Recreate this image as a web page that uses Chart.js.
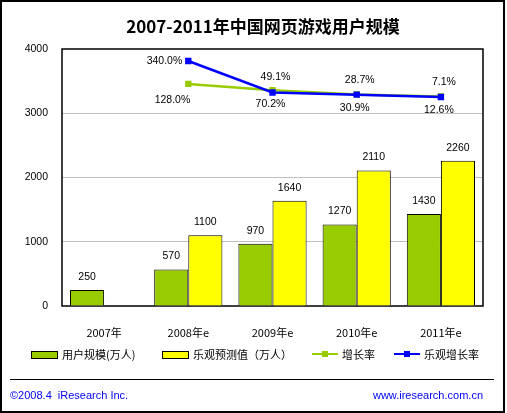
<!DOCTYPE html>
<html>
<head>
<meta charset="utf-8">
<script src="https://cdn.jsdelivr.net/npm/chart.js@4/dist/chart.umd.min.js"></script>
<style>
  body { margin: 0; background: #fff; }
  #wrap { position: relative; width: 507px; height: 413px; }
</style>
</head>
<body>
<div id="wrap"><canvas id="myChart" width="507" height="413"></canvas></div>
<script>
// data
const years = ['2007年', '2008年e', '2009年e', '2010年e', '2011年e']
const users = [250, 570, 970, 1270, 1430]            // 用户规模(万人)
const optimistic = [null, 1100, 1640, 2110, 2260]     // 乐观预测值（万人）
const growth = [null, 128.0, 70.2, 30.9, 12.6]        // 增长率 %
const optGrowth = [null, 340.0, 49.1, 28.7, 7.1]      // 乐观增长率 %
const yTicks = [0, 1000, 2000, 3000, 4000]

const numFont = '10.5px "Liberation Sans", Arial, sans-serif'
const cjkFont = '11px "Noto Sans CJK SC", sans-serif'
const GREEN = '#99cc00'
const YELLOW = '#ffff00'
const BLUE = '#0000ff'

// frame, title, legend, footer, plot box and value labels
const decor = {
  id: 'decor',
  beforeDatasetsDraw(chart) {
    const { ctx, chartArea: a } = chart
    ctx.save()
    ctx.strokeStyle = '#000'
    ctx.lineWidth = 1.5
    ctx.strokeRect(a.left, a.top, a.right - a.left, a.bottom - a.top)
    ctx.restore()
  },
  afterDatasetsDraw(chart) {
    const { ctx } = chart
    ctx.save()
    ctx.fillStyle = '#000'
    ctx.font = numFont
    // bar labels
    ;[0, 1].forEach(di => {
      chart.getDatasetMeta(di).data.forEach((bar, i) => {
        const v = chart.data.datasets[di].data[i]
        if (v == null) return
        ctx.textAlign = 'center'
        ctx.textBaseline = 'middle'
        ctx.fillText(String(v), bar.x, bar.y - 13)
      })
    })
    // growth (green) labels below
    chart.getDatasetMeta(3).data.forEach((pt, i) => {
      const v = growth[i]
      if (v == null) return
      ctx.textBaseline = 'middle'
      if (i === 1) { ctx.textAlign = 'right'; ctx.fillText(v.toFixed(1) + '%', pt.x + 2, pt.y + 16) }
      else { ctx.textAlign = 'center'; ctx.fillText(v.toFixed(1) + '%', pt.x - 2, pt.y + 14) }
    })
    // optimistic growth (blue) labels above
    chart.getDatasetMeta(2).data.forEach((pt, i) => {
      const v = optGrowth[i]
      if (v == null) return
      ctx.textBaseline = 'middle'
      if (i === 1) { ctx.textAlign = 'right'; ctx.fillText(v.toFixed(1) + '%', pt.x - 6, pt.y) }
      else { ctx.textAlign = 'center'; ctx.fillText(v.toFixed(1) + '%', pt.x + 3, pt.y - 15) }
    })
    ctx.restore()
  },
  afterDraw(chart) {
    const { ctx } = chart
    ctx.save()
    // outer frame
    ctx.strokeStyle = '#000'
    ctx.lineWidth = 2
    ctx.strokeRect(1, 1, 503, 411)
    // title
    ctx.fillStyle = '#000'
    ctx.font = 'bold 17px "Noto Sans CJK SC", sans-serif'
    ctx.textAlign = 'center'
    ctx.textBaseline = 'middle'
    ctx.fillText('2007-2011年中国网页游戏用户规模', 263, 27)
    // legend
    ctx.font = cjkFont
    ctx.textAlign = 'left'
    ctx.lineWidth = 1
    ctx.fillStyle = GREEN
    ctx.fillRect(31.5, 351.5, 26, 7)
    ctx.strokeRect(31.5, 351.5, 26, 7)
    ctx.fillStyle = YELLOW
    ctx.fillRect(162.5, 351.5, 26, 7)
    ctx.strokeRect(162.5, 351.5, 26, 7)
    ctx.fillStyle = '#000'
    ctx.fillText('用户规模(万人)', 62, 355)
    ctx.fillText('乐观预测值（万人）', 193, 355)
    ctx.fillText('增长率', 342, 355)
    ctx.fillText('乐观增长率', 424, 355)
    ;[[312, GREEN], [394, BLUE]].forEach(([x, c]) => {
      ctx.strokeStyle = c
      ctx.fillStyle = c
      ctx.lineWidth = 2
      ctx.beginPath(); ctx.moveTo(x, 354); ctx.lineTo(x + 26, 354); ctx.stroke()
      ctx.fillRect(x + 10, 351, 6, 6)
    })
    // separator and footer
    ctx.strokeStyle = '#000'
    ctx.lineWidth = 1
    ctx.beginPath(); ctx.moveTo(10, 379.5); ctx.lineTo(494, 379.5); ctx.stroke()
    ctx.fillStyle = BLUE
    ctx.font = '11px "Liberation Sans", Arial, sans-serif'
    ctx.textAlign = 'left'
    ctx.fillText('©2008.4  iResearch Inc.', 10, 396)
    ctx.textAlign = 'right'
    ctx.fillText('www.iresearch.com.cn', 483, 396)
    ctx.restore()
  }
}

const ctx = document.getElementById('myChart')
const myChart = new Chart(ctx, {
  data: {
    labels: years,
    datasets: [
      {
        type: 'bar', label: '用户规模(万人)', data: users,
        backgroundColor: GREEN, borderColor: '#000', borderWidth: 1,
        categoryPercentage: 0.81, barPercentage: 1, order: 3
      },
      {
        type: 'bar', label: '乐观预测值（万人）', data: optimistic,
        backgroundColor: YELLOW, borderColor: '#000', borderWidth: 1,
        categoryPercentage: 0.81, barPercentage: 1, order: 3
      },
      {
        type: 'line', label: '乐观增长率', data: optGrowth, yAxisID: 'y1',
        borderColor: BLUE, backgroundColor: BLUE, borderWidth: 2.5,
        pointStyle: 'rect', pointRadius: 4.5, pointBorderWidth: 0, order: 0
      },
      {
        type: 'line', label: '增长率', data: growth, yAxisID: 'y1',
        borderColor: GREEN, backgroundColor: GREEN, borderWidth: 2.5,
        pointStyle: 'rect', pointRadius: 4.5, pointBorderWidth: 0, order: 1
      }
    ]
  },
  options: {
    responsive: false,
    animation: false,
    events: [],
    layout: { padding: { top: 49, right: 24, bottom: 0, left: 0 } },
    plugins: { legend: { display: false }, tooltip: { enabled: false } },
    scales: {
      x: {
        grid: { display: false },
        border: { display: false },
        ticks: { color: '#000', font: { family: '"Noto Sans CJK SC", sans-serif', size: 11 }, padding: 12, maxRotation: 0 },
        afterFit(s) { s.height = 107 }
      },
      y: {
        min: 0, max: 4000,
        afterBuildTicks(s) { s.ticks = yTicks.map(v => ({ value: v })) },
        grid: {
          color: c => (c.tick.value === 0 || c.tick.value === 4000) ? 'rgba(0,0,0,0)' : '#c0c0c0',
          drawTicks: false
        },
        border: { display: false },
        ticks: {
          color: '#000', font: { family: '"Liberation Sans", Arial, sans-serif', size: 10.5 }, padding: 14,
          callback: v => String(v)
        },
        afterFit(s) { s.width = 62 }
      },
      y1: { display: false, min: -1926, max: 451 }
    }
  },
  plugins: [decor]
})
</script>
</body>
</html>
